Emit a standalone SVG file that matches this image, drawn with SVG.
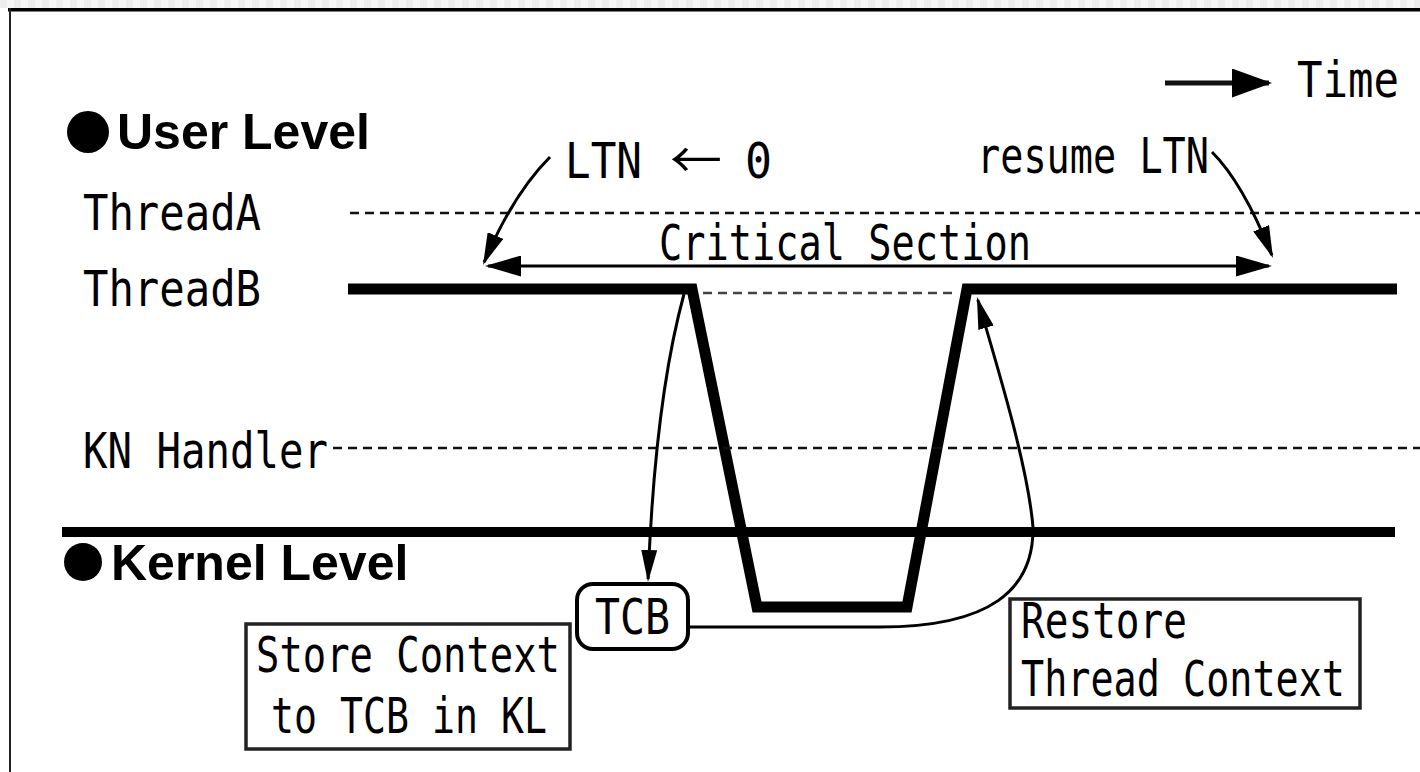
<svg xmlns="http://www.w3.org/2000/svg" width="1420" height="772" viewBox="0 0 1420 772">
  <style>
    .mono { font-family: "DejaVu Sans Mono", "Liberation Mono", monospace; font-size: 49px; fill: #000; }
    .bold { font-family: "Liberation Sans", Arial, sans-serif; font-weight: bold; font-size: 50px; fill: #000; }
    .thin { fill: none; stroke: #000; stroke-width: 3; }
    .dash { fill: none; stroke: #111; stroke-width: 2.5; stroke-dasharray: 9 6; }
    .box { fill: #fff; stroke: #222; stroke-width: 3.5; }
    .heavy { fill: none; stroke: #000; stroke-linejoin: miter; stroke-miterlimit: 10; }
  </style>
  <defs>
    <pattern id="checker" x="0" y="0" width="14" height="8" patternUnits="userSpaceOnUse">
      <rect x="0" y="0" width="7" height="8" fill="#ececec"/>
      <rect x="7" y="0" width="7" height="8" fill="#f6f6f6"/>
    </pattern>
    <marker id="ahMid" markerUnits="userSpaceOnUse" viewBox="0 0 32 17" markerWidth="32" markerHeight="17" refX="29" refY="8.5" orient="auto">
      <path d="M0,0 L32,8.5 L0,17 Z" fill="#000"/>
    </marker>
    <marker id="ahSmall" markerUnits="userSpaceOnUse" viewBox="0 0 32 16" markerWidth="32" markerHeight="16" refX="29" refY="8" orient="auto">
      <path d="M0,0 L32,8 L0,16 Z" fill="#000"/>
    </marker>
    <marker id="ahLarge" markerUnits="userSpaceOnUse" viewBox="0 0 36 21" markerWidth="36" markerHeight="21" refX="33" refY="10.5" orient="auto-start-reverse">
      <path d="M0,0 L36,10.5 L0,21 Z" fill="#000"/>
    </marker>
    <marker id="ahTime" markerUnits="userSpaceOnUse" viewBox="0 0 40 29" markerWidth="40" markerHeight="29" refX="37" refY="14.5" orient="auto">
      <path d="M0,0 L40,14.5 L0,29 Z" fill="#000"/>
    </marker>
  </defs>

  <rect x="0" y="0" width="1420" height="772" fill="#fff"/>
  <rect x="0" y="0" width="1420" height="8" fill="url(#checker)"/>
  <g id="frame">
    <rect x="8" y="8" width="1412" height="3.5" fill="#000"/>
    <rect x="9" y="8" width="2" height="764" fill="#222"/>
  </g>

  <g id="time-legend">
    <line x1="1165" y1="83" x2="1269" y2="83" stroke="#111" stroke-width="5" marker-end="url(#ahTime)"/>
    <text class="mono" x="1297" y="97" textLength="102" lengthAdjust="spacingAndGlyphs">Time</text>
  </g>

  <g id="user-level">
    <circle cx="88" cy="132" r="21" fill="#000"/>
    <text class="bold" x="117" y="149">User Level</text>
  </g>

  <g id="kernel-level">
    <circle cx="83" cy="562" r="19" fill="#000"/>
    <text class="bold" x="111" y="580">Kernel Level</text>
  </g>

  <g id="threadA">
    <text class="mono" x="83" y="230" textLength="178" lengthAdjust="spacingAndGlyphs">ThreadA</text>
    <line class="dash" x1="350" y1="213" x2="1420" y2="213"/>
  </g>

  <g id="threadB">
    <text class="mono" x="83" y="306" textLength="178" lengthAdjust="spacingAndGlyphs">ThreadB</text>
    <path class="heavy" stroke-width="11" d="M348,289 L692,289 L757,607 L907,607 L967,289 L1397,289"/>
    <line x1="703" y1="293" x2="958" y2="293" stroke="#444" stroke-width="2.5" stroke-dasharray="9 6"/>
  </g>

  <g id="kn-handler">
    <text class="mono" x="83" y="468" textLength="245" lengthAdjust="spacingAndGlyphs">KN Handler</text>
    <line class="dash" x1="333" y1="448" x2="1420" y2="448"/>
  </g>

  <g id="kernel-boundary">
    <line x1="62" y1="532" x2="1395" y2="532" stroke="#000" stroke-width="10"/>
  </g>

  <g id="critical-section">
    <text class="mono" x="659" y="260" textLength="372" lengthAdjust="spacingAndGlyphs">Critical Section</text>
  </g>

  <g id="ltn-set">
    <text class="mono" y="178"><tspan x="565" textLength="77" lengthAdjust="spacingAndGlyphs">LTN</tspan> <tspan x="670" font-family="'Noto Sans CJK JP', 'DejaVu Sans', sans-serif" textLength="52" lengthAdjust="spacingAndGlyphs">←</tspan> <tspan x="745" textLength="27" lengthAdjust="spacingAndGlyphs">0</tspan></text>
  </g>

  <g id="resume-ltn">
    <text class="mono" x="977" y="173" textLength="232" lengthAdjust="spacingAndGlyphs">resume LTN</text>
  </g>

  <g id="tcb">
    <rect x="577" y="584" width="111" height="65" rx="16" ry="16" fill="#fff" stroke="#000" stroke-width="4"/>
    <text class="mono" x="595" y="634" textLength="75" lengthAdjust="spacingAndGlyphs">TCB</text>
  </g>

  <g id="store-context">
    <rect class="box" x="246" y="624" width="324" height="125"/>
    <text class="mono" x="256" y="672" textLength="304" lengthAdjust="spacingAndGlyphs">Store Context</text>
    <text class="mono" x="271" y="733" textLength="276" lengthAdjust="spacingAndGlyphs">to TCB in KL</text>
  </g>

  <g id="restore-context">
    <rect class="box" x="1010" y="599" width="350" height="109"/>
    <text class="mono" x="1021" y="638" textLength="166" lengthAdjust="spacingAndGlyphs">Restore</text>
    <text class="mono" x="1021" y="696" textLength="324" lengthAdjust="spacingAndGlyphs">Thread Context</text>
  </g>

  <g id="connectors">
    <line class="thin" stroke-width="4" x1="488" y1="266" x2="1269" y2="266" marker-start="url(#ahLarge)" marker-end="url(#ahLarge)"/>
    <path class="thin" d="M550,157 Q513,194 484.2,262.2" marker-end="url(#ahMid)"/>
    <path class="thin" d="M1212,152 Q1243,183 1271.9,255.2" marker-end="url(#ahMid)"/>
    <path class="thin" stroke-width="2.5" d="M684,294 Q655,400 648.1,579" marker-end="url(#ahSmall)"/>
    <path class="thin" stroke-width="3" d="M690,627 L880,627 C990,627 1034,590 1033,527 C1028,470 1003,385 977.8,299.9" marker-end="url(#ahSmall)"/>
  </g>
</svg>
